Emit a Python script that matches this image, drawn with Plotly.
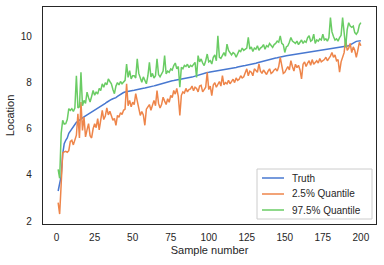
import plotly.graph_objects as go

sample = list(range(1, 201))

truth = [
    3.30, 3.60, 3.95, 4.90, 5.35, 5.50, 5.60, 5.80, 5.90, 6.00,
    6.10, 6.20, 6.28, 6.32, 6.38, 6.42, 6.47, 6.52, 6.56, 6.60,
    6.64, 6.67, 6.70, 6.74, 6.78, 6.83, 6.88, 6.92, 6.95, 7.00,
    7.05, 7.10, 7.15, 7.20, 7.24, 7.27, 7.30, 7.32, 7.35, 7.40,
    7.45, 7.50, 7.54, 7.57, 7.59, 7.61, 7.62, 7.63, 7.65, 7.66,
    7.67, 7.69, 7.70, 7.72, 7.73, 7.74, 7.76, 7.77, 7.78, 7.80,
    7.81, 7.83, 7.85, 7.86, 7.88, 7.90, 7.92, 7.93, 7.94, 7.95,
    7.97, 7.99, 8.02, 8.04, 8.06, 8.08, 8.09, 8.10, 8.11, 8.12,
    8.13, 8.14, 8.15, 8.16, 8.17, 8.18, 8.20, 8.22, 8.24, 8.26,
    8.28, 8.30, 8.33, 8.36, 8.39, 8.41, 8.42, 8.43, 8.44, 8.45,
    8.46, 8.47, 8.48, 8.49, 8.50, 8.51, 8.52, 8.53, 8.54, 8.55,
    8.56, 8.57, 8.58, 8.59, 8.60, 8.62, 8.64, 8.66, 8.68, 8.70,
    8.71, 8.72, 8.73, 8.74, 8.75, 8.76, 8.77, 8.78, 8.80, 8.82,
    8.84, 8.86, 8.88, 8.90, 8.92, 8.94, 8.96, 8.98, 9.00, 9.02,
    9.04, 9.05, 9.06, 9.07, 9.08, 9.10, 9.12, 9.14, 9.15, 9.16,
    9.17, 9.18, 9.19, 9.20, 9.21, 9.22, 9.23, 9.24, 9.25, 9.26,
    9.27, 9.28, 9.29, 9.30, 9.31, 9.32, 9.33, 9.34, 9.35, 9.36,
    9.37, 9.38, 9.39, 9.40, 9.41, 9.42, 9.43, 9.44, 9.45, 9.46,
    9.47, 9.48, 9.49, 9.50, 9.51, 9.52, 9.53, 9.54, 9.55, 9.56,
    9.57, 9.60, 9.64, 9.68, 9.74, 9.78, 9.79, 9.80, 9.81, 9.82,
]

q_low = [
    2.80, 2.30, 3.60, 4.95, 5.00, 5.02, 4.98, 5.05, 5.45, 5.50,
    5.30, 5.55, 5.72, 6.65, 5.60, 7.16, 5.93, 6.51, 5.65, 5.95,
    6.22, 5.70, 5.60, 6.00, 6.22, 6.05, 6.44, 5.95, 6.40, 6.80,
    6.40, 6.55, 6.90, 6.60, 6.76, 6.60, 6.37, 6.45, 6.15, 6.58,
    6.50, 6.70, 6.62, 6.80, 6.85, 7.95, 7.00, 7.23, 6.95, 7.15,
    7.05, 7.52, 7.20, 6.90, 6.58, 6.75, 6.60, 6.15, 6.85, 6.95,
    7.05, 6.80, 7.00, 7.23, 7.00, 7.66, 7.10, 6.90, 7.05, 7.37,
    7.20, 7.05, 7.30, 7.15, 7.45, 7.35, 7.66, 7.50, 7.75, 7.40,
    6.58, 7.45, 7.60, 7.55, 7.75, 7.60, 7.70, 7.73, 7.85, 7.65,
    7.80, 7.75, 7.60, 7.85, 7.88, 7.60, 7.70, 7.80, 8.45, 7.70,
    7.85, 7.44, 7.90, 8.00, 7.80, 7.95, 8.05, 7.85, 8.30, 7.90,
    8.00, 7.95, 8.10, 7.95, 8.05, 8.15, 8.00, 8.20, 8.10, 8.15,
    8.30, 8.20, 8.25, 8.40, 8.60, 8.30, 8.50, 8.45, 8.30, 8.60,
    8.50, 8.45, 8.81, 8.50, 8.40, 8.55, 8.45, 8.35, 8.50, 8.60,
    8.40, 8.45, 8.55, 8.60, 8.50, 8.70, 9.10, 8.70, 8.40, 8.45,
    8.60, 8.70, 8.55, 8.95, 8.70, 8.50, 8.80, 8.65, 8.75, 8.55,
    8.16, 8.80, 8.90, 8.70, 8.85, 8.95, 8.75, 9.00, 8.80, 8.90,
    8.95, 8.85, 9.05, 8.90, 8.95, 9.00, 9.10, 8.95, 9.05, 9.15,
    9.31, 9.10, 9.20, 8.95, 9.00, 8.45, 8.90, 9.15, 9.30, 9.89,
    9.40, 9.50, 9.70, 9.30, 9.55, 9.40, 9.10, 9.40, 9.75, 9.60,
]

q_high = [
    4.24, 3.85, 5.80, 6.37, 6.20, 6.22, 6.40, 6.87, 6.80, 6.87,
    6.75, 6.90, 8.30, 6.90, 6.95, 8.45, 7.00, 7.23, 7.10, 7.59,
    7.35, 7.16, 7.40, 7.66, 7.45, 7.60, 7.50, 7.75, 7.65, 7.95,
    7.80, 8.00, 7.90, 8.16, 8.05, 7.95, 7.70, 7.52, 7.85, 8.00,
    7.90, 8.05, 7.95, 8.02, 8.10, 8.81, 8.23, 8.52, 8.16, 8.30,
    8.30, 8.20, 9.03, 8.40, 8.15, 8.02, 8.25, 8.10, 7.95, 8.30,
    8.88, 8.25, 8.40, 8.20, 8.30, 9.03, 8.35, 8.25, 8.40, 8.50,
    9.17, 8.38, 8.50, 8.45, 8.60, 8.55, 8.74, 8.85, 8.60, 8.70,
    7.80, 8.66, 8.60, 8.75, 8.70, 8.80, 8.65, 8.75, 8.70, 8.80,
    8.88, 8.23, 9.17, 8.90, 9.03, 8.85, 8.74, 8.95, 9.24, 8.90,
    8.95, 8.81, 9.10, 9.20, 8.95, 10.03, 9.10, 9.05, 9.20, 9.30,
    9.15, 9.67, 9.40, 9.30, 9.20, 9.30, 9.25, 9.10, 9.30, 9.40,
    9.35, 9.50, 9.40, 9.45, 9.50, 9.96, 9.45, 9.55, 9.35, 9.50,
    9.45, 9.60, 9.40, 9.50, 9.55, 9.65, 9.45, 9.60, 9.55, 9.70,
    9.60, 9.53, 9.65, 9.70, 9.80, 9.75, 10.03, 9.70, 9.65, 9.31,
    9.55, 9.60, 9.75, 9.96, 9.80, 9.75, 9.70, 9.80, 9.65, 9.75,
    9.85, 9.70, 9.80, 9.75, 9.95, 10.03, 9.80, 9.85, 10.10, 9.70,
    9.85, 9.80, 9.90, 9.85, 10.10, 9.85, 9.90, 9.80, 9.95, 10.82,
    10.20, 10.00, 9.85, 9.90, 9.80, 9.95, 10.05, 10.82, 10.30, 9.53,
    10.30, 10.60, 10.45, 10.40, 10.45, 10.17, 10.10, 10.20, 10.50, 10.60,
]

series_names = ["Truth", "2.5% Quantile", "97.5% Quantile"]
colors = ["#4878d0", "#ee854a", "#6acc64"]

font_family = "Liberation Sans, Arial, sans-serif"
text_color = "#262626"

fig = go.Figure()
for name, ys, col in zip(series_names, [truth, q_low, q_high], colors):
    fig.add_trace(go.Scatter(x=sample, y=ys, mode="lines", name=name,
                             line=dict(color=col, width=1.5), showlegend=False,
                             hoverinfo="skip"))

# Custom legend (matplotlib-style compact box), in axis-domain coordinates
W, H = 333.0, 217.0  # plot area size in px
def dx(px):
    return (px - 43) / W
def dy(py):
    return (224 - py) / H

shapes = [dict(type="rect", xref="x domain", yref="y domain",
               x0=dx(257), x1=dx(372), y0=dy(219), y1=dy(169),
               line=dict(color="#cccccc", width=1),
               fillcolor="rgba(255,255,255,0.8)", layer="above")]
annotations = []
rows = [178, 194, 210]
for name, col, ry in zip(series_names, colors, rows):
    shapes.append(dict(type="line", xref="x domain", yref="y domain",
                       x0=dx(262), x1=dx(284), y0=dy(ry), y1=dy(ry),
                       line=dict(color=col, width=1.5), layer="above"))
    annotations.append(dict(xref="x domain", yref="y domain", x=dx(290), y=dy(ry),
                            xanchor="left", yanchor="middle", showarrow=False,
                            text=name, font=dict(size=10, color=text_color)))

fig.update_layout(
    width=384, height=265,
    margin=dict(l=43, r=8, t=7, b=41),
    paper_bgcolor="white", plot_bgcolor="white",
    font=dict(family=font_family, size=10, color=text_color),
    showlegend=False, hovermode=False,
    shapes=shapes, annotations=annotations,
)
fig.update_xaxes(
    range=[-8.95, 209.95], tickvals=[0, 25, 50, 75, 100, 125, 150, 175, 200],
    showgrid=False, zeroline=False, showline=True, linecolor=text_color,
    linewidth=1.25, mirror=True, ticks="", ticklabelstandoff=4,
    title=dict(text="Sample number", font=dict(size=11), standoff=4),
)
fig.update_yaxes(
    range=[1.87, 11.28], tickvals=[2, 4, 6, 8, 10],
    showgrid=False, zeroline=False, showline=True, linecolor=text_color,
    linewidth=1.25, mirror=True, ticks="", ticklabelstandoff=8,
    title=dict(text="Location", font=dict(size=11), standoff=3),
)

fig.write_html("out.html", config={"displayModeBar": False},
               post_script="document.body.style.margin='0';")
